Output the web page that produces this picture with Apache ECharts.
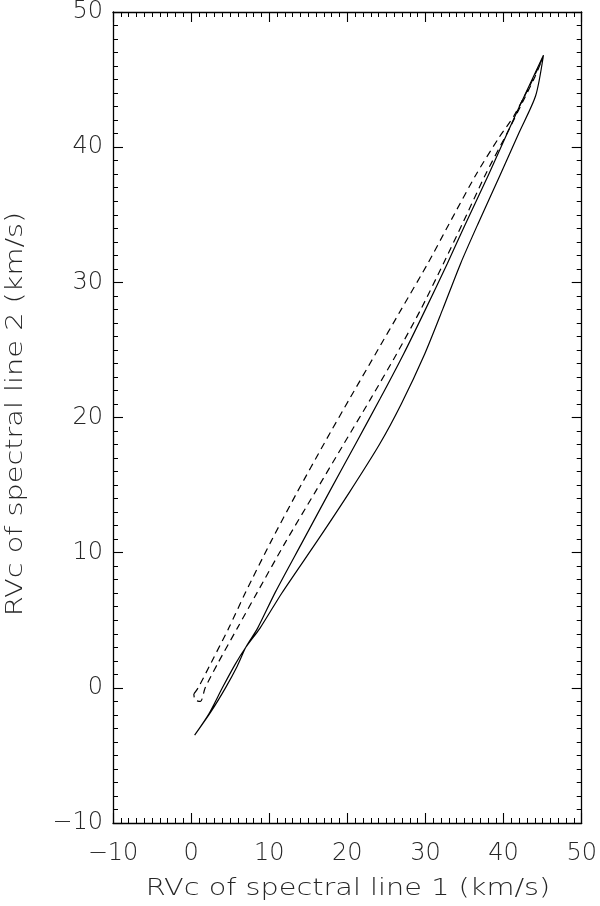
<!DOCTYPE html>
<html><head><meta charset="utf-8">
<script src="https://cdn.jsdelivr.net/npm/echarts@6/dist/echarts.min.js"></script>
<style>html,body{margin:0;padding:0;background:#fff}#c{width:600px;height:906px}</style>
</head><body><div id="c"></div>
<script>
// Axis setup values
const axisMin = -10, axisMax = 50, axisStep = 10;
const xTitle = 'RVc of spectral line 1 (km/s)';
const yTitle = 'RVc of spectral line 2 (km/s)';

// Solid loop: branch A and branch B (both from bottom tip to top tip)
const solidAX = [0.45, 2.5, 4.4, 5.9, 7.0, 8.5, 10.8, 14.25, 17.7, 21.1, 24.2, 27.2, 30.0, 32.8, 35.1, 38.1, 41.7, 45.1];
const solidAY = [-3.5, -1.8, 0.0, 1.6, 3.0, 4.4, 7.1, 10.8, 14.5, 18.1, 21.4, 24.7, 28.0, 31.4, 34.3, 38.0, 42.6, 46.8];
const solidBX = [0.45, 2.3, 4.0, 5.6, 7.0, 8.8, 11.6, 16.3, 20.3, 24.1, 26.9, 29.9, 32.2, 34.5, 36.7, 39.6, 42.0, 44.1, 45.1];
const solidBY = [-3.5, -1.9, 0.0, 1.7, 3.0, 4.4, 7.0, 11.0, 14.5, 18.0, 21.0, 24.7, 28.0, 31.4, 34.3, 38.0, 41.1, 43.8, 46.8];

// Dashed loop: left branch A and right branch B
const dashAX = [0.35, 0.9, 2.6, 4.8, 7.0, 10.2, 13.6, 17.05, 20.3, 23.6, 26.9, 30.3, 33.0, 36.5, 39.4, 41.3, 43.4, 45.0];
const dashAY = [-0.45, 0.0, 1.9, 4.4, 7.1, 10.8, 14.5, 18.1, 21.4, 24.7, 28.0, 31.4, 34.3, 38.0, 40.7, 42.3, 44.6, 46.6];
const dashBX = [0.35, 0.5, 1.2, 1.8, 3.5, 5.9, 8.5, 12.1, 15.9, 19.6, 23.0, 26.3, 29.4, 32.3, 34.7, 37.7, 40.5, 42.4, 44.0, 45.0];
const dashBY = [-0.45, -0.9, -1.0, 0.0, 1.9, 4.4, 7.1, 10.8, 14.5, 18.1, 21.4, 24.7, 28.0, 31.4, 34.3, 38.0, 41.1, 43.3, 45.2, 46.6];

function pairs(xs, ys) { return xs.map((x, i) => [x, ys[i]]); }
function loop(ax, ay, bx, by) {
  return pairs(ax, ay).concat(pairs(bx, by).reverse());
}

const font = "'DejaVu Sans', sans-serif";
const textColor = '#262626';
const lineCol = '#000';

function makeAxis(pos, withLabels, isY) {
  return {
    type: 'value', position: pos, min: axisMin, max: axisMax, interval: axisStep,
    axisLine: { show: true, onZero: false, lineStyle: { color: lineCol, width: 1.3 } },
    axisTick: { show: true, inside: true, length: 10, lineStyle: { color: lineCol, width: 1.1 } },
    minorTick: { show: true, splitNumber: 10, length: 5, lineStyle: { color: lineCol, width: 1 } },
    splitLine: { show: false }, minorSplitLine: { show: false },
    axisLabel: withLabels ? {
      show: true, fontSize: 24, fontFamily: font, fontWeight: 200, color: textColor,
      margin: isY ? 10 : 19,
      formatter: v => String(v).replace('-', '\u2212')
    } : { show: false }
  };
}

const chart = echarts.init(document.getElementById('c'), null, { renderer: 'canvas' });
chart.setOption({
  animation: false,
  backgroundColor: '#fff',
  grid: { left: 113, right: 17, top: 6, bottom: 83, containLabel: false },
  xAxis: [ makeAxis('bottom', true, false), makeAxis('top', false, false) ],
  yAxis: [ makeAxis('left', true, true), makeAxis('right', false, true) ],
  graphic: [
    { type: 'text', x: 348, y: 889, scaleX: 1.25,
      style: { text: xTitle, font: '200 23px ' + font, fill: textColor, textAlign: 'center', textVerticalAlign: 'middle' } },
    { type: 'text', x: 16, y: 414, rotation: Math.PI / 2, scaleX: 1.25,
      style: { text: yTitle, font: '200 23px ' + font, fill: textColor, textAlign: 'center', textVerticalAlign: 'middle' } }
  ],
  series: [
    { type: 'line', xAxisIndex: 0, yAxisIndex: 0, showSymbol: false, smooth: 0.25,
      data: loop(solidAX, solidAY, solidBX, solidBY),
      lineStyle: { color: lineCol, width: 1.2 } },
    { type: 'line', xAxisIndex: 0, yAxisIndex: 0, showSymbol: false, smooth: 0.25,
      data: loop(dashAX, dashAY, dashBX, dashBY),
      lineStyle: { color: lineCol, width: 1.2, type: [7, 5] } }
  ]
});
</script></body></html>
